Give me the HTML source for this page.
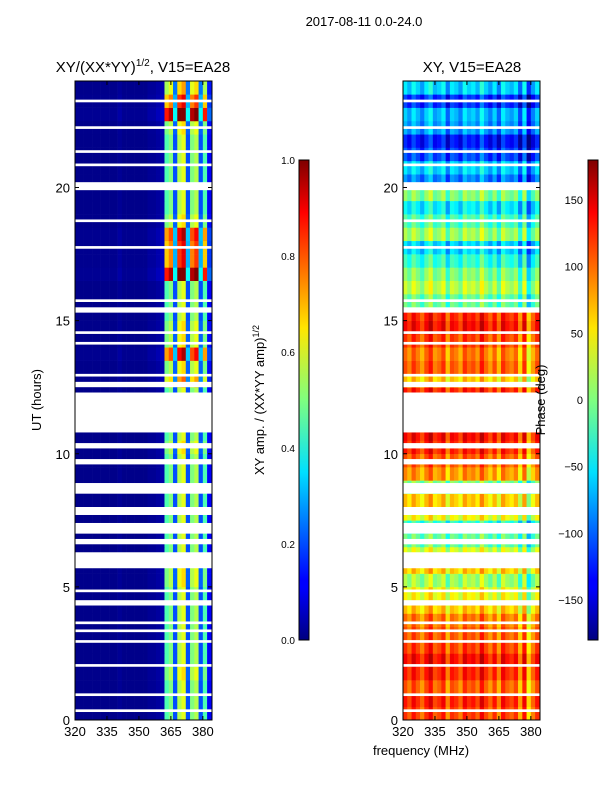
<!DOCTYPE html>
<html><head><meta charset="utf-8"><style>
body{margin:0;background:#fff;font-family:"Liberation Sans",sans-serif}
svg text{font-family:"Liberation Sans",sans-serif;fill:#000}
</style></head><body>
<svg id="fig" width="600" height="800" xmlns="http://www.w3.org/2000/svg">
<defs>
<linearGradient id="jetv" x1="0" y1="1" x2="0" y2="0">
<stop offset="0" stop-color="#00007f"/><stop offset="0.11" stop-color="#0000ff"/><stop offset="0.125" stop-color="#0000ff"/>
<stop offset="0.35" stop-color="#00e0ff"/><stop offset="0.5" stop-color="#7fff7f"/><stop offset="0.65" stop-color="#ffe600"/>
<stop offset="0.89" stop-color="#ff0000"/><stop offset="1" stop-color="#7f0000"/>
</linearGradient>
</defs>
<text x="364" y="26" font-size="13" text-anchor="middle">2017-08-11 0.0-24.0</text>
<text x="143" y="72" font-size="15" text-anchor="middle">XY/(XX*YY)<tspan font-size="10" dy="-6">1/2</tspan><tspan dy="6">, V15=EA28</tspan></text>
<text x="472" y="72" font-size="15" text-anchor="middle">XY, V15=EA28</text>
<g id="left"></g>
<g id="right"></g>
<g id="axes"></g>
<rect x="299" y="160" width="10" height="480" fill="url(#jetv)" stroke="#000"/>
<rect x="588" y="160" width="10" height="480" fill="url(#jetv)" stroke="#000"/>
<text transform="translate(41,400) rotate(-90)" font-size="13" text-anchor="middle">UT (hours)</text>
<text transform="translate(264,400) rotate(-90)" font-size="13" text-anchor="middle">XY amp. / (XX*YY amp)<tspan font-size="9" dy="-5">1/2</tspan></text>
<text transform="translate(545,400) rotate(-90)" font-size="13" text-anchor="middle">Phase (deg)</text>
<text x="421" y="755" font-size="13" text-anchor="middle">frequency (MHz)</text>
</svg>
<script>
const freqEdges=[320,322,324,326,328,330,332,334,336,338,340,342,344,346,348,350,352,354,356,358,360,362,364,366,368,370,372,374,376,378,380,382,384.3];
const ampCol=[0.01,0.01,0.01,0.01,0.01,0.01,0.01,0.01,0.01,0.01,0.02,0.01,0.01,0.01,0.01,0.01,0.01,0.02,0.02,0.03,0.04,0.45,0.5,0.2,0.55,0.6,0.2,0.5,0.55,0.2,0.45,0.12];
const ampRowGain=[1,1,1,1.1,1,1,1,1,1,1,1.1,1.1,1,1,1,1,1,1,1,1,1.1,1,1,1,1,1.3,1.1,1.6,1.1,1.1,1,1,1,1.9,1.5,1.5,1.6,1.1,1,1,1,1,1,1,1.1,1.9,1.5,1.2];
const phaseRow=[110,120,100,120,130,110,100,90,60,40,10,60,30,-10,-30,40,60,0,80,100,120,130,0,0,120,60,100,90,110,130,120,-10,20,0,-30,-60,10,-20,-50,0,-90,-60,-110,-130,-80,-70,-120,-60];
const phaseColOff=[10,-10,20,0,-20,10,30,-10,0,20,-30,10,0,-20,20,0,10,-10,30,0,-20,10,-30,20,0,-10,10,-40,20,-60,-20,10];
const flagged=[[0.3,0.4],[0.9,1.0],[2.0,2.1],[2.9,3.0],[3.3,3.4],[3.6,3.7],[4.3,4.5],[4.8,4.9],[5.7,6.3],[6.6,6.8],[7.0,7.4],[7.7,8.0],[8.5,8.9],[9.6,9.8],[10.2,10.4],[10.8,12.3],[12.5,12.7],[12.9,13.0],[14.1,14.2],[14.5,14.6],[15.3,15.5],[15.7,15.8],[17.7,17.8],[18.7,18.8],[19.9,20.2],[20.8,20.9],[21.3,21.4],[22.2,22.3],[23.2,23.3]];
const xTicks=[320,335,350,365,380];
const yTicks=[0,5,10,15,20];
const ampTicks=[0.0,0.2,0.4,0.6,0.8,1.0];
const phaseTicks=[150,100,50,0,-50,-100,-150];
const NS="http://www.w3.org/2000/svg";
const panels=[{g:'left',x0:75},{g:'right',x0:403}];
const W=137,T=81,B=720;
function xs(x0,f){return x0+(f-320)/(384.3-320)*W;}
function ys(h){return B-h/24*(B-T);}
function clamp(v){return Math.max(0,Math.min(1,v));}
function jet(v){v=clamp(v);const r=clamp(1.5-Math.abs(4*v-3)),g=clamp(1.5-Math.abs(4*v-2)),b=clamp(1.5-Math.abs(4*v-1));return `rgb(${Math.round(r*255)},${Math.round(g*255)},${Math.round(b*255)})`;}
function mk(tag,attrs,parent){const e=document.createElementNS(NS,tag);for(const k in attrs)e.setAttribute(k,attrs[k]);parent.appendChild(e);return e;}
panels.forEach((p,pi)=>{
 const g=document.getElementById(p.g);
 for(let r=0;r<ampRowGain.length;r++){
  for(let c=0;c<ampCol.length;c++){
   let v=pi===0?Math.min(1,ampCol[c]*ampRowGain[r]):(phaseRow[r]+phaseColOff[c]+180)/360;
   const x1=xs(p.x0,freqEdges[c]),x2=xs(p.x0,freqEdges[c+1]),y1=ys((r+1)*0.5),y2=ys(r*0.5);
   const e=mk('rect',{x:x1,y:y1,width:x2-x1+0.3,height:y2-y1+0.3,fill:jet(v)},g);
   
   
  }
 }
 flagged.forEach(f=>{
  const e=mk('rect',{x:p.x0,y:ys(f[1]),width:W,height:ys(f[0])-ys(f[1]),fill:'#fff'},g);
  
  
 });
 const ax=document.getElementById('axes');
 const fr=mk('rect',{x:p.x0,y:T,width:W,height:B-T,fill:'none',stroke:'#000'},ax);
 
 
 xTicks.forEach(t=>{const x=xs(p.x0,t);mk('line',{x1:x,x2:x,y1:B,y2:B-4,stroke:'#000'},ax);mk('line',{x1:x,x2:x,y1:T,y2:T+4,stroke:'#000'},ax);
  const tx=mk('text',{x:x,y:B+16,'font-size':13,'text-anchor':'middle'},ax);tx.textContent=t;
  
  });
 yTicks.forEach(t=>{const y=ys(t);mk('line',{x1:p.x0,x2:p.x0+4,y1:y,y2:y,stroke:'#000'},ax);mk('line',{x1:p.x0+W,x2:p.x0+W-4,y1:y,y2:y,stroke:'#000'},ax);
  const tx=mk('text',{x:p.x0-5,y:y+5,'font-size':13,'text-anchor':'end'},ax);tx.textContent=t;
  
  });
});
const ax=document.getElementById('axes');
ampTicks.forEach(t=>{const y=640-t*480;mk('line',{x1:299,x2:302,y1:y,y2:y,stroke:'#000'},ax);
 const tx=mk('text',{x:295,y:y+4,'font-size':10,'text-anchor':'end'},ax);tx.textContent=t.toFixed(1);
 
 });
phaseTicks.forEach(t=>{const y=400-t*480/360;mk('line',{x1:588,x2:591,y1:y,y2:y,stroke:'#000'},ax);
 const tx=mk('text',{x:583,y:y+4,'font-size':11,'text-anchor':'end'},ax);tx.textContent=t<0?'\u2212'+(-t):t;
 
 });
</script>
</body></html>
